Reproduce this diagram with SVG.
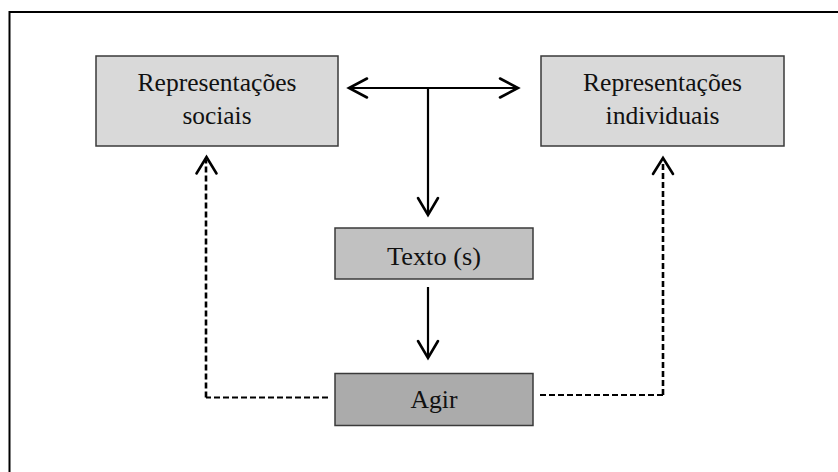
<svg xmlns="http://www.w3.org/2000/svg" width="838" height="472" viewBox="0 0 838 472">
<style>
.box{stroke:#3a3a3a;stroke-width:1.5}
.lbl{font-family:"Liberation Serif","Times New Roman",serif;font-size:26px;fill:#111;text-anchor:middle}
.solid{fill:none;stroke:#000;stroke-width:2.2}
.dashh{fill:none;stroke:#000;stroke-width:1.8;stroke-dasharray:6 3}
.dashv{fill:none;stroke:#000;stroke-width:2.6;stroke-dasharray:6 3}
.head{fill:none;stroke:#000;stroke-width:2.6;stroke-linecap:round;stroke-linejoin:miter}
</style>
<rect width="838" height="472" fill="#fff"/>
<g id="frame">
<path d="M9.5 472 V12 H838" fill="none" stroke="#000" stroke-width="2"/>
</g>
<g id="connectors">
<path class="solid" d="M349 88 H517"/>
<path class="solid" d="M428 88 V214"/>
<path class="solid" d="M428 287 V357"/>
<path class="dashh" d="M328 397.5 H206"/>
<path class="dashv" d="M206 397.5 V160"/>
<path class="dashh" d="M540 395 H663"/>
<path class="dashv" d="M663 395 V161"/>
<path class="head" d="M367 78.5 L349 88 L367 97.5"/>
<path class="head" d="M500 78.5 L518 88 L500 97.5"/>
<path class="head" d="M418 198 L428 215 L438 198"/>
<path class="head" d="M418 341 L428 358 L438 341"/>
<path class="head" d="M196.5 173.5 L206.5 157 L216.5 173.5"/>
<path class="head" d="M653 174 L663 158 L673 174"/>
</g>
<g id="rep-sociais">
<rect class="box" x="96" y="56" width="242" height="90" fill="#d9d9d9"/>
<text class="lbl" x="217" y="91" textLength="159" lengthAdjust="spacingAndGlyphs">Representações</text>
<text class="lbl" x="217" y="124" textLength="69" lengthAdjust="spacingAndGlyphs">sociais</text>
</g>
<g id="rep-individuais">
<rect class="box" x="541" y="56" width="243" height="90" fill="#d9d9d9"/>
<text class="lbl" x="662.5" y="91" textLength="159" lengthAdjust="spacingAndGlyphs">Representações</text>
<text class="lbl" x="662.5" y="124" textLength="114" lengthAdjust="spacingAndGlyphs">individuais</text>
</g>
<g id="texto">
<rect class="box" x="335" y="228" width="198" height="51" fill="#c1c1c1"/>
<text class="lbl" x="434" y="265" textLength="94" lengthAdjust="spacingAndGlyphs">Texto (s)</text>
</g>
<g id="agir">
<rect class="box" x="335" y="373.5" width="198" height="52" fill="#ababab"/>
<text class="lbl" x="434" y="408" textLength="47" lengthAdjust="spacingAndGlyphs">Agir</text>
</g>
</svg>
